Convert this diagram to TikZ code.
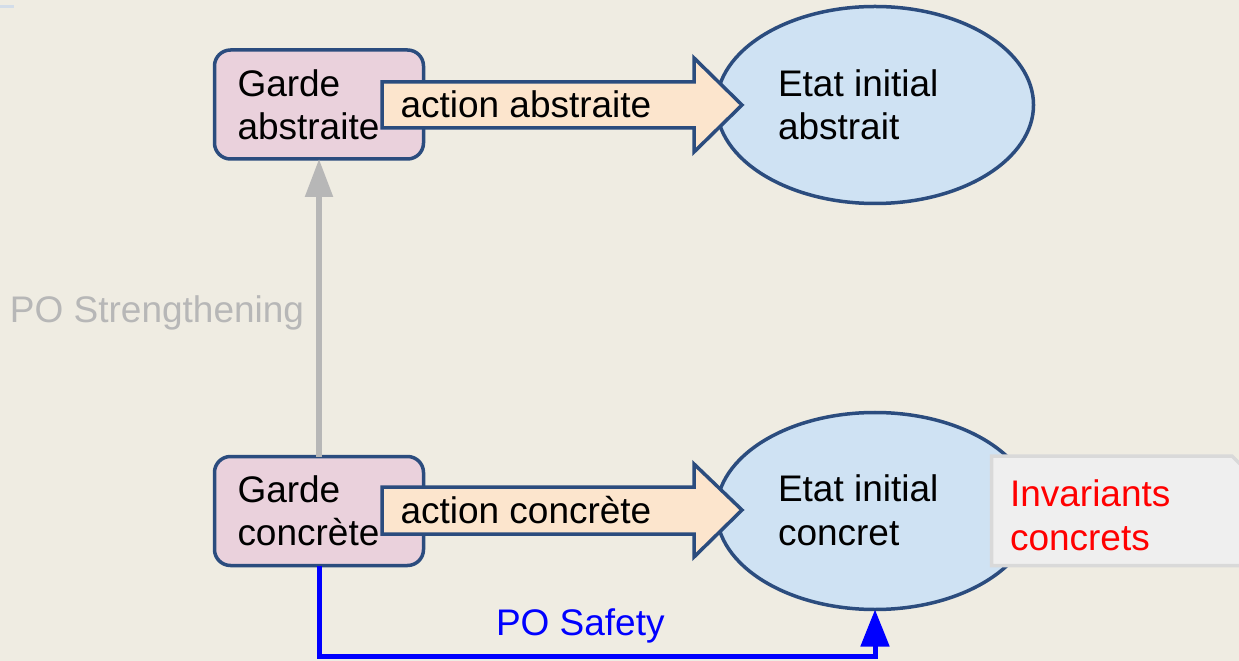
\documentclass[tikz,border=0pt]{standalone}
\usepackage{fontspec}
\setmainfont{Liberation Sans}
\usetikzlibrary{shapes.geometric,arrows.meta}

\definecolor{bgcream}{HTML}{EFECE2}
\definecolor{guardpink}{HTML}{EAD1DC}
\definecolor{edgeblue}{HTML}{2B4C7E}
\definecolor{actionpeach}{HTML}{FCE5CD}
\definecolor{statebleu}{HTML}{CFE2F3}
\definecolor{strenggrey}{HTML}{B7B7B7}
\definecolor{notefill}{HTML}{EFEFEF}
\definecolor{noteedge}{HTML}{D9D9D9}
\definecolor{tickblue}{HTML}{D3DDE9}

\begin{document}
\begin{tikzpicture}[
  x=0.2mm, y=-0.2mm,
  every node/.style={inner sep=0pt, outer sep=0pt},
  label text/.style={anchor=base west, font=\fontsize{21.05pt}{24.5pt}\selectfont},
  guardbox/.style={draw=edgeblue, fill=guardpink, line width=0.7mm,
    rounded corners=3.2mm, minimum width=41.8mm, minimum height=21.8mm},
  statebox/.style={ellipse, draw=edgeblue, fill=statebleu, line width=0.7mm,
    minimum width=63.4mm, minimum height=39.4mm},
  blockarrow/.style={draw=edgeblue, fill=actionpeach, line width=0.7mm, line join=miter},
  notebox/.style={draw=noteedge, fill=notefill, line width=0.7mm},
  strengthen/.style={draw=strenggrey, line width=1.1mm,
    -{Triangle[length=7.6mm, width=5.4mm]}},
  safety/.style={draw=blue, line width=1mm,
    -{Triangle[length=7.4mm, width=5.6mm]}},
]
% canvas
\fill[bgcream] (0,0) rectangle (1239,661);
\useasboundingbox (0,0) rectangle (1239,661);
\clip (0,0) rectangle (1239,661);
\fill[tickblue] (0,5) rectangle (14,8);

% states
\node[statebox] (ea) at (875,105) {};
\node[statebox] (ec) at (875,511) {};

% guards
\node[guardbox] (ga) at (319,104.5) {};
\node[guardbox] (gc) at (319,511) {};

% action arrows (block arrows from guard to state)
\draw[blockarrow] (382,82) -- (694,82) -- (694,58) -- (742,105)
  -- (694,152) -- (694,128) -- (382,128) -- cycle;
\draw[blockarrow] (382,487) -- (694,487) -- (694,464) -- (742,510)
  -- (694,557) -- (694,534) -- (382,534) -- cycle;

% invariants note with folded corner
\draw[notebox] (991.5,456) -- (1232,456) -- (1247,471) -- (1247,565.5)
  -- (991.5,565.5) -- cycle;

% texts
\node[label text] (ga1) at (237.5,97) {Garde};
\node[label text] (ga2) at (237.5,140) {abstraite};
\node[label text] (gc1) at (237.5,502) {Garde};
\node[label text] (gc2) at (237.5,545) {concrète};
\node[label text] (aa) at (400.5,118) {action abstraite};
\node[label text] (ac) at (400.5,523) {action concrète};
\node[label text] (ea1) at (778,96.5) {Etat initial};
\node[label text] (ea2) at (778,140) {abstrait};
\node[label text] (ec1) at (778,501.5) {Etat initial};
\node[label text] (ec2) at (778,545) {concret};
\node[label text, text=red] (iv1) at (1010,506) {Invariants};
\node[label text, text=red] (iv2) at (1010,550) {concrets};

% proof obligations
\draw[strengthen] (gc.north) -- (ga.south);
\node[label text, text=strenggrey] (pos) at (10,323) {PO Strengthening};

\coordinate (safetyturn) at (319,656);
\draw[safety] (gc.south) -- (gc.south |- safetyturn) -| (ec.south);
\node[label text, text=blue] (posf) at (496,635) {PO Safety};
\end{tikzpicture}
\end{document}
